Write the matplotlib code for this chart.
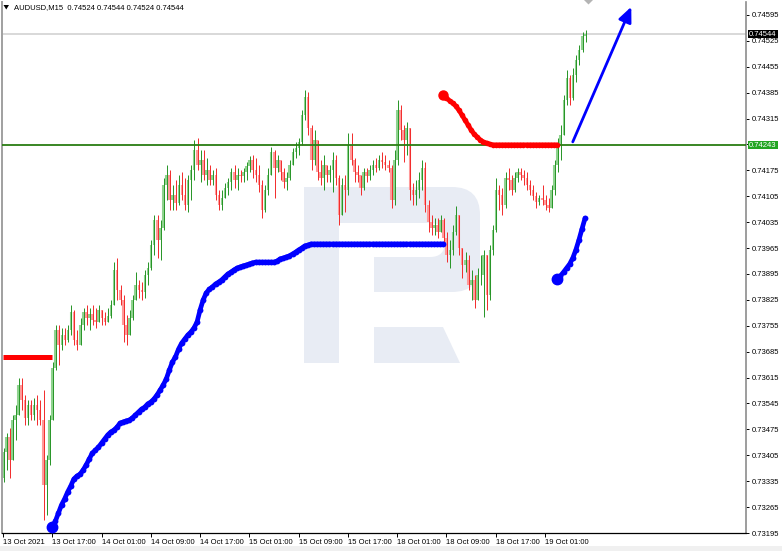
import matplotlib
matplotlib.use("Agg")
import matplotlib.pyplot as plt
from matplotlib.patches import FancyBboxPatch, Rectangle, Polygon
import numpy as np

# ---------------- data ----------------
title_text = "AUDUSD,M15  0.74524 0.74544 0.74524 0.74544"

x_tick_labels = ["13 Oct 2021", "13 Oct 17:00", "14 Oct 01:00", "14 Oct 09:00",
                 "14 Oct 17:00", "15 Oct 01:00", "15 Oct 09:00", "15 Oct 17:00",
                 "18 Oct 01:00", "18 Oct 09:00", "18 Oct 17:00", "19 Oct 01:00"]
bars_per_label = 32          # M15 bars between two time labels
bars_per_candle = 2          # one drawn candle per two M15 bars

y_tick_values = [0.74595, 0.74525, 0.74455, 0.74385, 0.74315, 0.74245, 0.74175,
                 0.74105, 0.74035, 0.73965, 0.73895, 0.73825, 0.73755, 0.73685,
                 0.73615, 0.73545, 0.73475, 0.73405, 0.73335, 0.73265, 0.73195]
hidden_tick = 0.74245        # covered by the level price box

last_price = 0.74544
level_price = 0.74243

open_first = 0.73343
high = [0.73425, 0.73465, 0.73479, 0.73514, 0.73541, 0.73614, 0.73614, 0.73568, 0.73554, 0.73554,
        0.73560, 0.73568, 0.73554, 0.73581, 0.73406, 0.73514, 0.73657, 0.73757, 0.73757, 0.73749,
        0.73749, 0.73757, 0.73811, 0.73798, 0.73744, 0.73776, 0.73803, 0.73811, 0.73803, 0.73811,
        0.73803, 0.73811, 0.73798, 0.73792, 0.73803, 0.73825, 0.73927, 0.73938, 0.73865, 0.73839,
        0.73784, 0.73798, 0.73839, 0.73900, 0.73879, 0.73873, 0.73906, 0.73927, 0.73987, 0.74054,
        0.74054, 0.74041, 0.74154, 0.74190, 0.74176, 0.74135, 0.74149, 0.74163, 0.74171, 0.74154,
        0.74163, 0.74190, 0.74257, 0.74263, 0.74230, 0.74230, 0.74208, 0.74190, 0.74176, 0.74181,
        0.74122, 0.74122, 0.74141, 0.74154, 0.74181, 0.74190, 0.74181, 0.74176, 0.74181, 0.74198,
        0.74214, 0.74217, 0.74208, 0.74190, 0.74149, 0.74135, 0.74181, 0.74238, 0.74230, 0.74217,
        0.74203, 0.74181, 0.74171, 0.74203, 0.74236, 0.74252, 0.74263, 0.74338, 0.74392, 0.74387,
        0.74298, 0.74284, 0.74257, 0.74203, 0.74217, 0.74190, 0.74190, 0.74225, 0.74217, 0.74163,
        0.74154, 0.74163, 0.74276, 0.74276, 0.74208, 0.74190, 0.74163, 0.74181, 0.74181, 0.74190,
        0.74203, 0.74208, 0.74217, 0.74225, 0.74217, 0.74203, 0.74190, 0.74230, 0.74365, 0.74352,
        0.74298, 0.74306, 0.74257, 0.74141, 0.74149, 0.74171, 0.74203, 0.74198, 0.74095, 0.74054,
        0.74046, 0.74046, 0.74054, 0.74046, 0.74009, 0.73987, 0.74027, 0.74079, 0.74054, 0.73965,
        0.73954, 0.73946, 0.73906, 0.73892, 0.73911, 0.73946, 0.73960, 0.73946, 0.73973, 0.74027,
        0.74154, 0.74135, 0.74127, 0.74171, 0.74181, 0.74163, 0.74171, 0.74181, 0.74181, 0.74176,
        0.74171, 0.74149, 0.74135, 0.74117, 0.74109, 0.74135, 0.74109, 0.74100, 0.74135, 0.74203,
        0.74263, 0.74298, 0.74379, 0.74446, 0.74433, 0.74452, 0.74487, 0.74514, 0.74549, 0.74554]
low = [0.73333, 0.73365, 0.73343, 0.73392, 0.73446, 0.73514, 0.73527, 0.73487, 0.73487, 0.73500,
       0.73500, 0.73487, 0.73487, 0.73230, 0.73244, 0.73379, 0.73506, 0.73635, 0.73649, 0.73690,
       0.73703, 0.73711, 0.73730, 0.73703, 0.73690, 0.73703, 0.73744, 0.73757, 0.73744, 0.73757,
       0.73749, 0.73765, 0.73757, 0.73757, 0.73771, 0.73776, 0.73811, 0.73825, 0.73811, 0.73711,
       0.73703, 0.73730, 0.73771, 0.73825, 0.73830, 0.73825, 0.73830, 0.73865, 0.73906, 0.73946,
       0.73938, 0.73933, 0.74014, 0.74095, 0.74068, 0.74068, 0.74068, 0.74081, 0.74095, 0.74068,
       0.74063, 0.74095, 0.74149, 0.74176, 0.74144, 0.74149, 0.74135, 0.74135, 0.74135, 0.74095,
       0.74068, 0.74068, 0.74100, 0.74109, 0.74122, 0.74127, 0.74122, 0.74144, 0.74144, 0.74149,
       0.74171, 0.74154, 0.74144, 0.74117, 0.74046, 0.74063, 0.74109, 0.74163, 0.74100, 0.74171,
       0.74149, 0.74127, 0.74122, 0.74149, 0.74190, 0.74208, 0.74217, 0.74244, 0.74311, 0.74271,
       0.74176, 0.74190, 0.74149, 0.74135, 0.74122, 0.74144, 0.74144, 0.74117, 0.74135, 0.74027,
       0.74054, 0.74063, 0.74109, 0.74190, 0.74144, 0.74144, 0.74109, 0.74122, 0.74144, 0.74149,
       0.74163, 0.74171, 0.74176, 0.74181, 0.74176, 0.74171, 0.74073, 0.74081, 0.74190, 0.74257,
       0.74198, 0.74217, 0.74095, 0.74081, 0.74081, 0.74100, 0.74122, 0.74063, 0.74009, 0.74000,
       0.74000, 0.73992, 0.74019, 0.73973, 0.73927, 0.73911, 0.73946, 0.74000, 0.73946, 0.73884,
       0.73900, 0.73852, 0.73825, 0.73803, 0.73852, 0.73865, 0.73779, 0.73798, 0.73825, 0.73946,
       0.74009, 0.74068, 0.74054, 0.74073, 0.74122, 0.74109, 0.74117, 0.74144, 0.74149, 0.74135,
       0.74122, 0.74109, 0.74095, 0.74073, 0.74081, 0.74081, 0.74068, 0.74063, 0.74081, 0.74109,
       0.74171, 0.74203, 0.74271, 0.74352, 0.74352, 0.74365, 0.74414, 0.74460, 0.74495, 0.74522]
close = [0.73414, 0.73454, 0.73392, 0.73500, 0.73514, 0.73595, 0.73554, 0.73506, 0.73541, 0.73514,
         0.73541, 0.73527, 0.73500, 0.73325, 0.73392, 0.73500, 0.73641, 0.73744, 0.73703, 0.73730,
         0.73717, 0.73744, 0.73792, 0.73717, 0.73703, 0.73757, 0.73792, 0.73776, 0.73787, 0.73771,
         0.73765, 0.73798, 0.73776, 0.73765, 0.73781, 0.73811, 0.73906, 0.73852, 0.73825, 0.73757,
         0.73730, 0.73776, 0.73825, 0.73865, 0.73852, 0.73846, 0.73892, 0.73911, 0.73973, 0.74041,
         0.73987, 0.74019, 0.74135, 0.74163, 0.74095, 0.74109, 0.74087, 0.74135, 0.74109, 0.74081,
         0.74149, 0.74176, 0.74230, 0.74190, 0.74203, 0.74163, 0.74176, 0.74149, 0.74163, 0.74109,
         0.74081, 0.74100, 0.74127, 0.74144, 0.74171, 0.74149, 0.74163, 0.74160, 0.74171, 0.74187,
         0.74203, 0.74176, 0.74163, 0.74135, 0.74068, 0.74122, 0.74163, 0.74225, 0.74181, 0.74203,
         0.74171, 0.74144, 0.74154, 0.74190, 0.74225, 0.74236, 0.74252, 0.74325, 0.74373, 0.74290,
         0.74203, 0.74257, 0.74171, 0.74154, 0.74190, 0.74163, 0.74176, 0.74203, 0.74154, 0.74054,
         0.74135, 0.74122, 0.74244, 0.74203, 0.74171, 0.74163, 0.74127, 0.74171, 0.74160, 0.74176,
         0.74190, 0.74181, 0.74203, 0.74198, 0.74190, 0.74181, 0.74095, 0.74203, 0.74338, 0.74284,
         0.74257, 0.74290, 0.74122, 0.74109, 0.74122, 0.74149, 0.74181, 0.74081, 0.74035, 0.74019,
         0.74027, 0.74009, 0.74041, 0.73992, 0.73946, 0.73960, 0.74009, 0.74054, 0.73965, 0.73919,
         0.73933, 0.73865, 0.73879, 0.73825, 0.73892, 0.73892, 0.73946, 0.73839, 0.73960, 0.74014,
         0.74122, 0.74109, 0.74081, 0.74154, 0.74149, 0.74122, 0.74154, 0.74171, 0.74163, 0.74154,
         0.74135, 0.74122, 0.74106, 0.74090, 0.74100, 0.74095, 0.74081, 0.74073, 0.74122, 0.74190,
         0.74244, 0.74271, 0.74365, 0.74425, 0.74371, 0.74433, 0.74473, 0.74500, 0.74538, 0.74544]

# blue trailing line, first segment (starts at M15 bar 32)
blue1_start_bar = 32
blue1 = [0.73211, 0.73227, 0.73249, 0.73271, 0.73287, 0.73306, 0.73322, 0.73341, 0.73349, 0.73354,
         0.73365, 0.73379, 0.73395, 0.73411, 0.73419, 0.73427, 0.73438, 0.73449, 0.73460, 0.73468,
         0.73473, 0.73481, 0.73492, 0.73495, 0.73498, 0.73500, 0.73506, 0.73514, 0.73522, 0.73530,
         0.73535, 0.73544, 0.73549, 0.73557, 0.73568, 0.73581, 0.73595, 0.73611, 0.73635, 0.73657,
         0.73671, 0.73692, 0.73708, 0.73719, 0.73730, 0.73738, 0.73749, 0.73765, 0.73798, 0.73825,
         0.73844, 0.73854, 0.73860, 0.73868, 0.73873, 0.73879, 0.73887, 0.73895, 0.73900, 0.73906,
         0.73911, 0.73914, 0.73917, 0.73919, 0.73922, 0.73925, 0.73927, 0.73927, 0.73927, 0.73927,
         0.73927, 0.73927, 0.73927, 0.73930, 0.73936, 0.73938, 0.73941, 0.73944, 0.73949, 0.73954,
         0.73960, 0.73965, 0.73971, 0.73973, 0.73976, 0.73976, 0.73976, 0.73976, 0.73976, 0.73976,
         0.73976, 0.73976, 0.73976, 0.73976, 0.73976, 0.73976, 0.73976, 0.73976, 0.73976, 0.73976,
         0.73976, 0.73976, 0.73976, 0.73976, 0.73976, 0.73976, 0.73976, 0.73976, 0.73976, 0.73976,
         0.73976, 0.73976, 0.73976, 0.73976, 0.73976, 0.73976, 0.73976, 0.73976, 0.73976, 0.73976,
         0.73976, 0.73976, 0.73976, 0.73976, 0.73976, 0.73976, 0.73976, 0.73976]
# blue trailing line, second segment (starts at M15 bar 360)
blue2_start_bar = 360
blue2 = [0.73881, 0.73890, 0.73900, 0.73911, 0.73922, 0.73938, 0.73960, 0.73987, 0.74017, 0.74046]

# red trailing line, first segment (starts at bar 0)
red1_start_bar = 0
red1 = [0.73671, 0.73671, 0.73671, 0.73671, 0.73671, 0.73671, 0.73671, 0.73671, 0.73671,
        0.73671, 0.73671, 0.73671, 0.73671, 0.73671, 0.73671, 0.73671, 0.73671]
# red trailing line, second segment (starts at bar 286)
red2_start_bar = 286
red2 = [0.74379, 0.74371, 0.74363, 0.74357, 0.74349, 0.74338, 0.74325, 0.74311, 0.74298, 0.74284,
        0.74273, 0.74265, 0.74257, 0.74252, 0.74249, 0.74246, 0.74244, 0.74244, 0.74244, 0.74244,
        0.74244, 0.74244, 0.74244, 0.74244, 0.74244, 0.74244, 0.74244, 0.74244, 0.74244, 0.74244,
        0.74244, 0.74244, 0.74244, 0.74244, 0.74244, 0.74244, 0.74244, 0.74244]

# forecast arrow (bar index, price)
arrow_start = (370, 0.74252)
arrow_end = (408, 0.74617)

# ---------------- layout ----------------
W, H = 782, 551
fig = plt.figure(figsize=(W / 100, H / 100), dpi=100)
fig.patch.set_facecolor("white")

TICK_FONT = ["Liberation Sans", "DejaVu Sans"]
FS = 5.5

# background axes in pixel units (watermark)
bg = fig.add_axes([0, 0, 1, 1], zorder=0)
bg.set_xlim(0, W)
bg.set_ylim(H, 0)
bg.axis("off")
wm = "#e8ecf4"
bg.add_patch(Rectangle((0, 546), W, 6, color="#f0f0f0", lw=0))
bg.add_patch(FancyBboxPatch((312, 187), 168, 105, boxstyle="round,pad=0,rounding_size=28",
                            fc=wm, ec="none"))
bg.add_patch(FancyBboxPatch((320, 223), 125, 34, boxstyle="round,pad=0,rounding_size=15",
                            fc="white", ec="none"))
bg.add_patch(Rectangle((339, 250), 35, 43, fc="white", ec="none"))
bg.add_patch(Rectangle((304, 187), 35, 176, fc=wm, ec="none"))
bg.add_patch(Polygon([(374, 327), (443, 327), (460, 363), (374, 363)], closed=True, fc=wm, ec="none"))

# main chart axes
ax = fig.add_axes([2 / W, (H - 533) / H, 744 / W, 531 / H], zorder=1)
ax.patch.set_alpha(0)
ax.set_xlim(-0.65, 482.5)
ax.set_ylim(0.73195, 0.74630)

n = len(close)
bars = np.arange(n) * bars_per_candle
opens = np.array([open_first] + close[:-1])
closes = np.array(close)
highs = np.array(high)
lows = np.array(low)
up = closes >= opens
body_lo = np.minimum(opens, closes)
body_hi = np.maximum(opens, closes)
wick_lo = np.minimum(lows, body_lo)
wick_hi = np.maximum(highs, body_hi)

bull_body, bull_wick = "#8fd38f", "#259425"
bear_body, bear_wick = "#ff9a9a", "#f22a2a"
body_cols = np.where(up, bull_body, bear_body)
wick_cols = np.where(up, bull_wick, bear_wick)
ax.vlines(bars, body_lo, body_hi, colors=body_cols, lw=1.5, zorder=2)
ax.vlines(bars + 0.35, wick_lo, wick_hi, colors=wick_cols, lw=0.7, zorder=3)

# horizontal lines
ax.axhline(last_price, color="#d6d6d6", lw=1.3, zorder=1)
ax.axhline(level_price, color="#2a7d12", lw=1.3, zorder=4)

# trailing lines
def seg_x(start, vals):
    return start + np.arange(len(vals)) * bars_per_candle

xb1 = seg_x(blue1_start_bar, blue1)
ax.plot(xb1, blue1, color="#0000ff", lw=3.4, marker="o", ms=4.2, mew=0,
        solid_capstyle="round", zorder=5)
ax.plot(xb1[0], blue1[0], "o", color="#0000ff", ms=7.5, zorder=6)
xb2 = seg_x(blue2_start_bar, blue2)
ax.plot(xb2, blue2, color="#0000ff", lw=3.4, marker="o", ms=4.2, mew=0,
        solid_capstyle="round", zorder=5)
ax.plot(xb2[0], blue2[0], "o", color="#0000ff", ms=7.5, zorder=6)

xr1 = seg_x(red1_start_bar, red1)
ax.plot(xr1, red1, color="#ff0000", lw=3.6, solid_capstyle="butt", zorder=5)
xr2 = seg_x(red2_start_bar, red2)
ax.plot(xr2, red2, color="#ff0000", lw=3.4, marker="o", ms=4.0, mew=0,
        solid_capstyle="round", zorder=5)
ax.plot(xr2[0], red2[0], "o", color="#ff0000", ms=6.5, zorder=6)

# forecast arrow
ax.annotate("", xy=arrow_end, xytext=arrow_start,
            arrowprops=dict(arrowstyle="-|>,head_length=0.9,head_width=0.4",
                            color="#0000ff", lw=2.0, shrinkA=0, shrinkB=0,
                            mutation_scale=10),
            annotation_clip=False, zorder=7)

# axes styling
ax.spines["top"].set_visible(False)
ax.spines["left"].set_color("#a0a0a0")
ax.spines["left"].set_linewidth(1.4)
ax.spines["right"].set_color("#8c8c8c")
ax.spines["right"].set_linewidth(1.2)
ax.spines["bottom"].set_color("#000000")
ax.spines["bottom"].set_linewidth(0.9)

ax.yaxis.tick_right()
ax.set_yticks(y_tick_values)
ax.set_yticklabels(["" if v == hidden_tick else f"{v:.5f}" for v in y_tick_values])
ax.tick_params(axis="y", direction="out", length=2.5, width=0.7, pad=1.6,
               labelsize=FS, colors="black")
x_tick_bars = np.arange(len(x_tick_labels)) * bars_per_label
ax.set_xticks(x_tick_bars)
ax.set_xticklabels(x_tick_labels)
ax.tick_params(axis="x", direction="out", length=3, width=0.7, pad=1.5,
               labelsize=FS, colors="black")
for lab in ax.get_xticklabels():
    lab.set_ha("left")
    lab.set_family(TICK_FONT)
for lab in ax.get_yticklabels():
    lab.set_family(TICK_FONT)

# overlay axes in pixel units
ov = fig.add_axes([0, 0, 1, 1], zorder=2)
ov.set_xlim(0, W)
ov.set_ylim(H, 0)
ov.axis("off")
ov.add_patch(Polygon([(3.5, 5), (9, 5), (6.25, 9.5)], closed=True, fc="black", ec="none"))
ov.text(14, 7.5, title_text, fontsize=FS, family=TICK_FONT, va="center", ha="left", color="black")
ov.add_patch(Polygon([(584, 0), (593, 0), (588.5, 4.5)], closed=True, fc="#b4b4b4", ec="none"))
ov.add_patch(Rectangle((747.5, 30), 30, 8, fc="black", ec="none"))
ov.text(749, 34.2, f"{last_price:.5f}", fontsize=FS, family=TICK_FONT, va="center",
        ha="left", color="white")
ov.add_patch(Rectangle((747.5, 141), 30, 8, fc="#22a522", ec="none"))
ov.text(749, 145.2, f"{level_price:.5f}", fontsize=FS, family=TICK_FONT, va="center",
        ha="left", color="white")

fig.savefig("out.png", dpi=100, facecolor="white")
